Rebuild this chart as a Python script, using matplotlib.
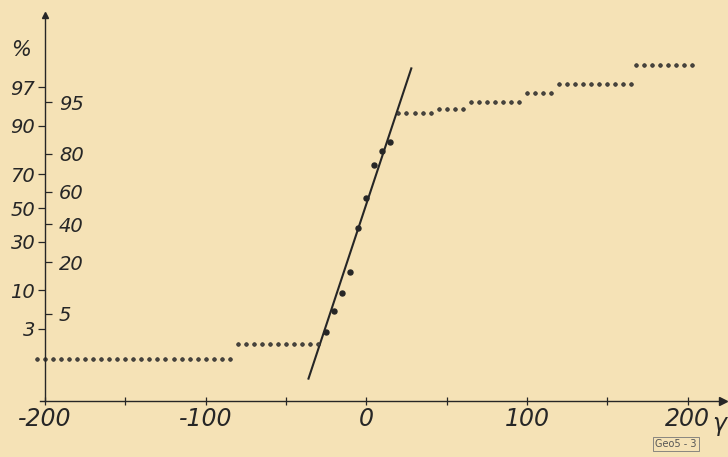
import numpy as np
import matplotlib
matplotlib.use("Agg")
import matplotlib.pyplot as plt
from statistics import NormalDist

# cumulative percentage vs value, probability paper
lvl1_x = [-205, -200, -195, -190, -185, -180, -175, -170, -165, -160, -155, -150, -145,
          -140, -135, -130, -125, -120, -115, -110, -105, -100, -95, -90, -85]
lvl1_p = 0.96
lvl2_x = [-80, -75, -70, -65, -60, -55, -50, -45, -40, -35, -30]
lvl2_p = 1.74
mid_x = [-25, -20, -15, -10, -5, 0, 5, 10, 15]
mid_p = [2.7, 5.4, 9.2, 15.9, 37.8, 56.4, 74.9, 81.3, 84.6]
upper_x = [
    [20, 25, 30, 35, 40],
    [45, 50, 55, 60],
    [65, 70, 75, 80, 85, 90, 95],
    [100, 105, 110, 115],
    [120, 125, 130, 135, 140, 145, 150, 155, 160, 165],
    [168, 173, 178, 183, 188, 193, 198, 203],
]
upper_p = [93.0, 93.9, 95.0, 96.3, 97.3, 98.7]
line_x = [-36, 28]
line_p = [0.4, 98.5]

left_ticks = [3, 10, 30, 50, 70, 90, 97]
right_ticks = [5, 20, 40, 60, 80, 95]
x_major = [-200, -100, 0, 100, 200]
x_labels = ['-200', '-100', '0', '100', '200']
x_minor = [-150, -50, 50, 150]

paper = '#f5e2b6'
ink = '#262626'
nd = NormalDist()

_ppf = np.vectorize(lambda v: nd.inv_cdf(v / 100.0), otypes=[float])
_cdf = np.vectorize(lambda v: nd.cdf(v) * 100.0, otypes=[float])


def fwd(p):
    p = np.clip(np.asarray(p, float), 1e-6, 100 - 1e-6)
    return _ppf(p)


def inv(z):
    return _cdf(np.asarray(z, float))


ylo, yhi = float(inv(-3.0)), float(inv(3.0))

fig = plt.figure(figsize=(7.28, 4.57), dpi=100)
fig.patch.set_facecolor(paper)
pos = [45 / 728, 56 / 457, 678 / 728, 386 / 457]
ax = fig.add_axes(pos)
ax.set_facecolor(paper)
ax.set_yscale('function', functions=(fwd, inv))
ax.set_xlim(-200, 222)
ax.set_ylim(ylo, yhi)

ax.plot(line_x, line_p, color=ink, lw=1.5)
dot = dict(ls='none', marker='o', ms=2.6, mfc='#4a4640', mec=ink, mew=0.5, clip_on=False)
ax.plot(lvl1_x, [lvl1_p] * len(lvl1_x), **dot)
ax.plot(lvl2_x, [lvl2_p] * len(lvl2_x), **dot)
ax.plot(mid_x, mid_p, ls='none', marker='o', ms=3.6, color=ink, clip_on=False)
for xs, p in zip(upper_x, upper_p):
    ax.plot(xs, [p] * len(xs), **dot)

for s in ['top', 'right']:
    ax.spines[s].set_visible(False)
for s in ['left', 'bottom']:
    ax.spines[s].set_color(ink)
    ax.spines[s].set_linewidth(1.0)
ax.spines['bottom'].set_bounds(-203, 222)

ax.plot(1, 0, '>', ms=6, color=ink, transform=ax.transAxes, clip_on=False)
ax.plot(0, 1, '^', ms=4, color=ink, transform=ax.transAxes, clip_on=False)

font = dict(family='DejaVu Sans', style='italic')
ax.set_xticks(x_major)
ax.set_xticklabels(x_labels, fontsize=17, color=ink, **font)
ax.set_xticks(x_minor, minor=True)
ax.tick_params(axis='x', which='both', direction='inout', length=6, width=0.9,
               color=ink, pad=1)

ax.set_yticks(left_ticks)
ax.set_yticklabels([str(t) for t in left_ticks], fontsize=14, color=ink, **font)
ax.yaxis.set_minor_locator(matplotlib.ticker.NullLocator())
ax.tick_params(axis='y', which='major', direction='out', length=5, width=0.9,
               color=ink, pad=2)

# right-hand percentage scale on the same vertical line
ax2 = fig.add_axes([pos[0], pos[1], 1e-6, pos[3]])
ax2.set_yscale('function', functions=(fwd, inv))
ax2.set_ylim(ylo, yhi)
ax2.patch.set_visible(False)
for s in ax2.spines.values():
    s.set_visible(False)
ax2.set_xticks([])
ax2.yaxis.tick_right()
ax2.set_yticks(right_ticks)
ax2.yaxis.set_minor_locator(matplotlib.ticker.NullLocator())
ax2.set_yticklabels([str(t) for t in right_ticks], fontsize=14, color=ink, **font)
ax2.tick_params(axis='y', direction='out', length=5, width=0.9, color=ink, pad=5)

fig.text(21 / 728, 1 - 50 / 457, '%', fontsize=15, color=ink, ha='center', va='center', **font)
fig.text(719 / 728, 1 - 424 / 457, 'γ', fontsize=17, color=ink, ha='center', va='center', **font)
fig.text(676 / 728, 1 - 444 / 457, 'Geo5 - 3', fontsize=7, color='#555555',
         ha='center', va='center',
         bbox=dict(boxstyle='square,pad=0.25', fc='none', ec='#777777', lw=0.6))

fig.savefig('out.png', dpi=100, facecolor=paper)
